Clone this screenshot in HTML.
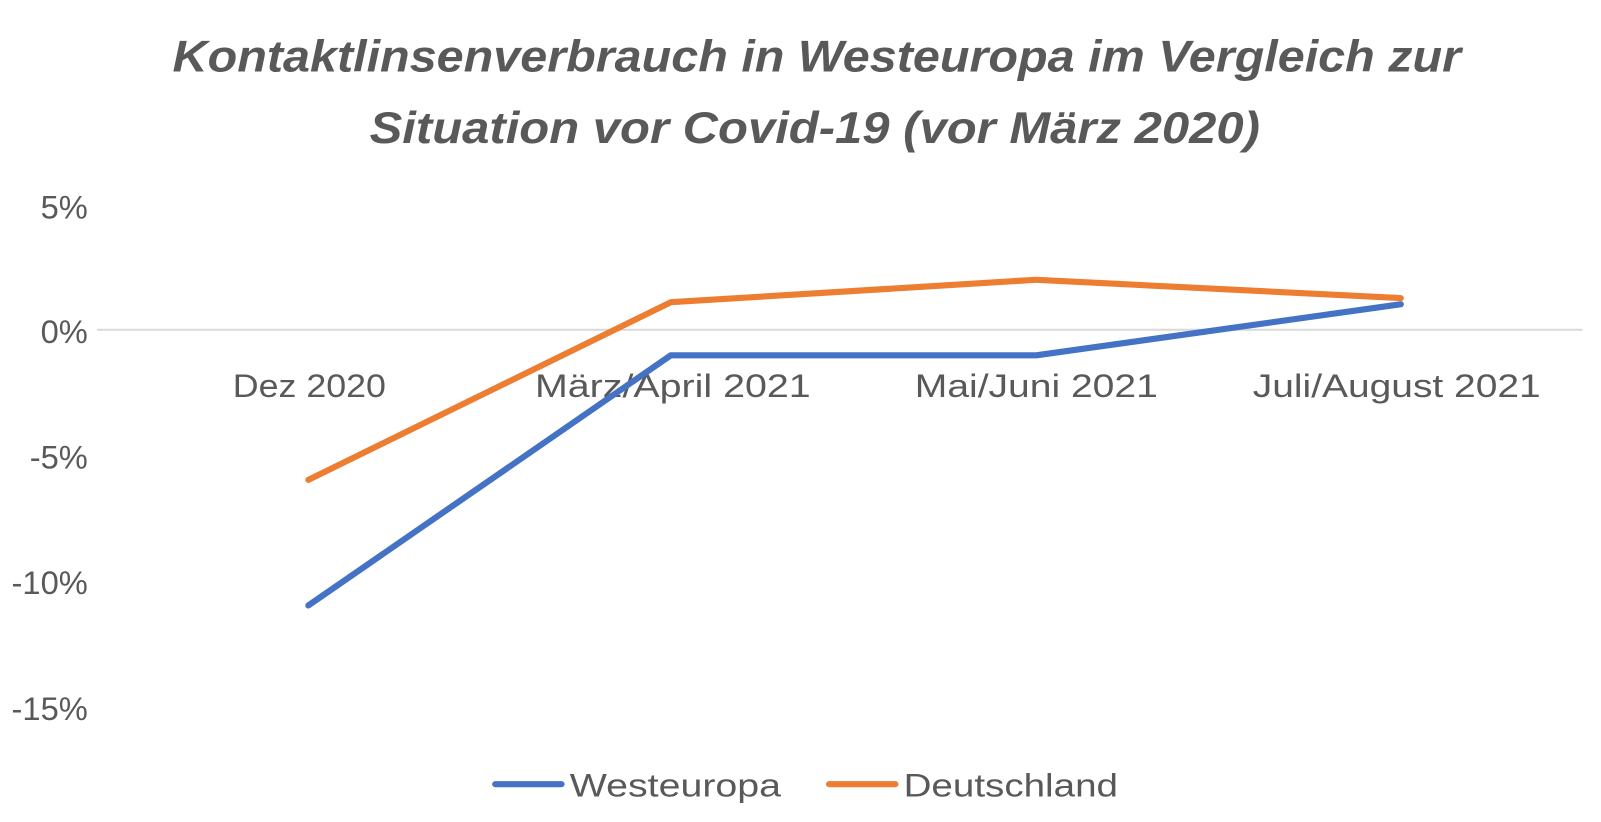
<!DOCTYPE html>
<html><head><meta charset="utf-8"><style>body{margin:0;background:#fff}svg{display:block}</style></head>
<body>
<svg width="1601" height="822" viewBox="0 0 1601 822" xmlns="http://www.w3.org/2000/svg">
<rect width="1601" height="822" fill="#fff"/>
<g transform="scale(1.021)">
<g font-family="Liberation Sans, sans-serif" fill="#595959">
<text x="800" y="70" font-size="44" font-weight="bold" font-style="italic" text-anchor="middle" textLength="1262" lengthAdjust="spacingAndGlyphs">Kontaktlinsenverbrauch in Westeuropa im Vergleich zur</text>
<text x="798" y="140" font-size="44" font-weight="bold" font-style="italic" text-anchor="middle" textLength="872" lengthAdjust="spacingAndGlyphs">Situation vor Covid-19 (vor März 2020)</text>
<g font-size="32" text-anchor="end">
<text x="86" y="214">5%</text>
<text x="86" y="336">0%</text>
<text x="86" y="459">-5%</text>
<text x="86" y="582">-10%</text>
<text x="86" y="705">-15%</text>
</g>
<g font-size="32" text-anchor="middle">
<text x="303" y="389" textLength="150" lengthAdjust="spacingAndGlyphs">Dez 2020</text>
<text x="659" y="389" textLength="270" lengthAdjust="spacingAndGlyphs">März/April 2021</text>
<text x="1015" y="389" textLength="238" lengthAdjust="spacingAndGlyphs">Mai/Juni 2021</text>
<text x="1368" y="389" textLength="282" lengthAdjust="spacingAndGlyphs">Juli/August 2021</text>
</g>
<g font-size="32">
<text x="558" y="780" textLength="207" lengthAdjust="spacingAndGlyphs">Westeuropa</text>
<text x="885" y="780" textLength="210" lengthAdjust="spacingAndGlyphs">Deutschland</text>
</g>
</g>
<line x1="95" y1="323" x2="1550" y2="323" stroke="#d9d9d9" stroke-width="2"/>
<polyline points="302,593 657,348 1015,348 1372,298" fill="none" stroke="#4472c4" stroke-width="6" stroke-linejoin="round" stroke-linecap="round"/>
<polyline points="302,470 657,296 1015,274 1372,292" fill="none" stroke="#ed7d31" stroke-width="6" stroke-linejoin="round" stroke-linecap="round"/>
<line x1="485" y1="768" x2="550" y2="768" stroke="#4472c4" stroke-width="6" stroke-linecap="round"/>
<line x1="812" y1="768" x2="877" y2="768" stroke="#ed7d31" stroke-width="6" stroke-linecap="round"/>
</g>
</svg>
</body></html>
